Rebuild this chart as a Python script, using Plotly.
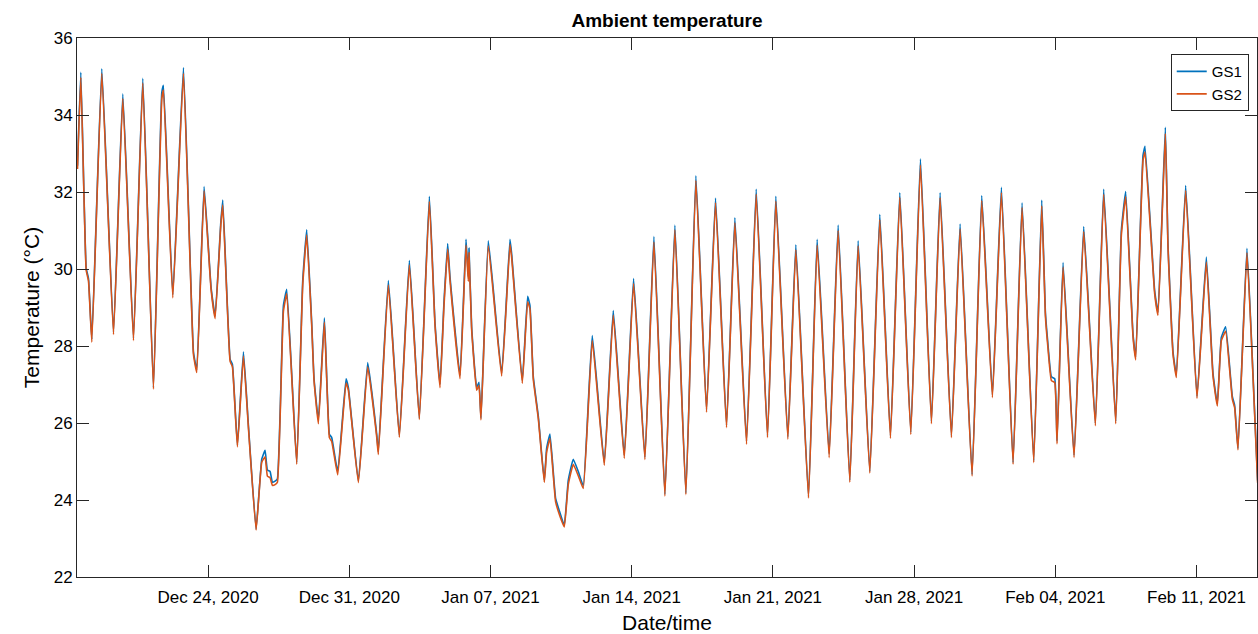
import pandas as pd
import plotly.graph_objects as go

# Time as fractional days since 2020-12-17 00:00
start_date = "2020-12-17 00:00"
days = [
    0.525, 0.69, 0.954, 1.07, 1.235, 1.73, 2.309, 2.771, 3.30, 3.762,
    4.29, 4.704, 4.786, 5.249, 5.777, 6.273, 6.438, 6.801, 7.148, 7.347,
    7.627, 7.726, 8.09, 8.205, 8.453, 8.751, 8.998, 9.378, 9.659, 9.824,
    9.94, 10.072, 10.187, 10.32, 10.435, 10.733, 10.898, 11.393, 11.691, 11.889,
    12.137, 12.252, 12.467, 12.764, 13.012, 13.128, 13.425, 13.838, 13.954, 14.45,
    14.912, 15.358, 15.44, 15.936, 16.481, 16.977, 17.472, 17.968, 18.25, 18.496,
    18.694, 18.876, 18.992, 19.487, 19.785, 19.9, 19.933, 20.065, 20.313, 20.429,
    20.528, 20.891, 21.552, 21.965, 22.048, 22.576, 22.84, 22.956, 23.122, 23.369,
    23.666, 23.782, 23.947, 24.228, 24.443, 24.657, 24.855, 25.103, 25.351, 25.599,
    26.045, 26.64, 27.086, 27.631, 28.093, 28.655, 29.101, 29.646, 30.141, 30.686,
    31.182, 31.71, 32.156, 32.701, 33.115, 33.693, 34.172, 34.733, 35.146, 35.741,
    36.137, 36.765, 37.194, 37.789, 38.235, 38.813, 39.226, 39.804, 40.3, 40.828,
    41.291, 41.836, 42.315, 42.86, 43.29, 43.851, 44.281, 44.875, 45.354, 45.883,
    46.329, 46.907, 47.353, 47.931, 48.328, 48.51, 48.608, 48.807, 48.972, 49.087,
    49.385, 49.93, 50.409, 50.987, 51.40, 51.995, 52.275, 52.49, 52.853, 52.986,
    53.349, 53.448, 53.927, 54.092, 54.456, 54.588, 54.836, 55.001, 55.463, 56.025,
    56.488, 56.818, 57.033, 57.231, 57.446, 57.776, 57.892, 58.057, 58.502, 58.8,
    59.03,
]

gs1 = [
    32.68, 35.11, 30.03, 29.75, 28.17, 35.20, 28.36, 34.55, 28.20, 34.95,
    26.92, 34.58, 34.77, 29.33, 35.23, 27.85, 27.38, 32.14, 29.52, 28.78,
    31.19, 31.79, 27.66, 27.52, 25.43, 27.85, 25.94, 23.25, 25.06, 25.29,
    24.78, 24.74, 24.46, 24.49, 24.55, 29.05, 29.47, 24.97, 29.70, 31.02,
    28.59, 27.15, 26.08, 28.73, 25.71, 25.62, 24.74, 27.15, 26.92, 24.49,
    27.57, 25.71, 25.25, 29.70, 25.67, 30.22, 26.13, 31.89, 28.59, 27.01,
    29.15, 30.66, 29.80, 27.24, 30.77, 29.80, 30.54, 28.50, 26.92, 27.06,
    26.13, 30.73, 27.29, 30.77, 30.40, 27.10, 29.29, 29.05, 27.20, 26.18,
    24.51, 25.34, 25.71, 24.04, 23.67, 23.34, 24.51, 25.06, 24.74, 24.37,
    28.27, 24.97, 28.92, 25.16, 29.75, 25.11, 30.84, 24.15, 31.14, 24.18,
    32.42, 26.34, 31.84, 25.94, 31.33, 25.53, 32.07, 25.67, 31.89, 25.64,
    30.63, 24.09, 30.77, 25.20, 31.14, 24.51, 30.73, 24.74, 31.42, 25.67,
    31.98, 25.76, 32.86, 26.04, 31.98, 25.67, 31.17, 24.66, 31.91, 26.73,
    32.12, 24.97, 31.72, 25.02, 31.79, 28.87, 28.22, 27.20, 27.15, 25.53,
    30.17, 25.16, 31.10, 25.99, 32.07, 26.04, 31.00, 32.01, 28.31, 27.71,
    32.95, 33.19, 29.43, 28.87, 33.68, 30.63, 27.85, 27.24, 32.17, 26.69,
    30.31, 27.29, 26.50, 28.22, 28.50, 26.69, 26.46, 25.34, 30.54, 27.29,
    24.51,
]

gs2 = [
    32.60, 34.98, 29.97, 29.69, 28.10, 35.08, 28.30, 34.43, 28.14, 34.83,
    26.88, 34.42, 34.65, 29.25, 35.08, 27.78, 27.31, 32.03, 29.46, 28.71,
    31.12, 31.66, 27.60, 27.46, 25.38, 27.74, 25.88, 23.22, 24.98, 25.12,
    24.62, 24.58, 24.38, 24.40, 24.46, 28.90, 29.36, 24.93, 29.58, 30.88,
    28.52, 27.09, 25.98, 28.62, 25.62, 25.52, 24.65, 27.04, 26.85, 24.45,
    27.46, 25.64, 25.18, 29.58, 25.63, 30.10, 26.09, 31.76, 28.52, 26.92,
    29.04, 30.52, 29.70, 27.15, 30.62, 29.68, 30.42, 28.43, 26.85, 26.98,
    26.08, 30.60, 27.22, 30.64, 30.30, 27.03, 29.15, 28.96, 27.13, 26.12,
    24.46, 25.24, 25.60, 23.95, 23.58, 23.30, 24.40, 24.93, 24.63, 24.30,
    28.14, 24.90, 28.80, 25.08, 29.62, 25.05, 30.70, 24.10, 31.02, 24.14,
    32.30, 26.28, 31.72, 25.88, 31.20, 25.45, 31.94, 25.62, 31.76, 25.58,
    30.50, 24.05, 30.62, 25.10, 31.00, 24.46, 30.60, 24.70, 31.28, 25.60,
    31.86, 25.70, 32.70, 25.98, 31.85, 25.62, 31.04, 24.62, 31.78, 26.66,
    31.98, 24.93, 31.60, 24.97, 31.64, 28.78, 28.12, 27.10, 27.05, 25.46,
    30.05, 25.10, 30.97, 25.93, 31.94, 25.98, 30.88, 31.88, 28.24, 27.64,
    32.82, 33.04, 29.36, 28.80, 33.52, 30.55, 27.78, 27.18, 32.04, 26.64,
    30.18, 27.22, 26.44, 28.14, 28.38, 26.62, 26.40, 25.30, 30.42, 27.22,
    24.45,
]

x_tick_dates = ["2020-12-24", "2020-12-31", "2021-01-07", "2021-01-14",
                "2021-01-21", "2021-01-28", "2021-02-04", "2021-02-11"]
y_ticks = [22, 24, 26, 28, 30, 32, 34, 36]

assert len(days) == len(gs1) == len(gs2)

t = pd.Timestamp(start_date) + pd.to_timedelta(days, unit="D")

axis_color = "#262626"
font_family = "Liberation Sans, Arial, Helvetica, sans-serif"

fig = go.Figure()
fig.add_trace(go.Scatter(x=t, y=gs1, mode="lines", name="GS1",
                         line=dict(color="#0072BD", width=1.6, shape="spline", smoothing=0.35)))
fig.add_trace(go.Scatter(x=t, y=gs2, mode="lines", name="GS2",
                         line=dict(color="#D95319", width=1.6, shape="spline", smoothing=0.35)))

fig.update_layout(
    width=1258, height=634,
    margin=dict(l=77, r=1, t=38, b=57),
    paper_bgcolor="white", plot_bgcolor="white",
    font=dict(family=font_family, color=axis_color),
    title=dict(text="<b>Ambient temperature</b>", x=667 / 1258, xanchor="center",
               y=1 - 20 / 634, yanchor="middle",
               font=dict(size=19, color="black", family=font_family)),
    legend=dict(x=0.993, xanchor="right", y=0.97, yanchor="top",
                bordercolor=axis_color, borderwidth=1, bgcolor="white",
                font=dict(size=15, color="black")),
    showlegend=True,
)

fig.update_xaxes(
    range=["2020-12-17 12:00", "2021-02-14 00:00"],
    tickvals=x_tick_dates, tickformat="%b %d, %Y",
    ticks="inside", ticklen=12, tickcolor=axis_color, tickwidth=1,
    showline=True, linecolor=axis_color, linewidth=1, mirror="ticks",
    showgrid=False, zeroline=False, ticklabelstandoff=5,
    tickfont=dict(size=17, color="black"),
    title=dict(text="Date/time", font=dict(size=21, color="black"), standoff=8),
)
fig.update_yaxes(
    range=[22, 36], tickvals=y_ticks,
    ticks="inside", ticklen=12, tickcolor=axis_color, tickwidth=1,
    showline=True, linecolor=axis_color, linewidth=1, mirror="ticks",
    showgrid=False, zeroline=False,
    tickfont=dict(size=17, color="black"),
    title=dict(text="Temperature (°C)", font=dict(size=21, color="black"), standoff=8),
)

fig.write_html("out.html", config={"displayModeBar": False})
